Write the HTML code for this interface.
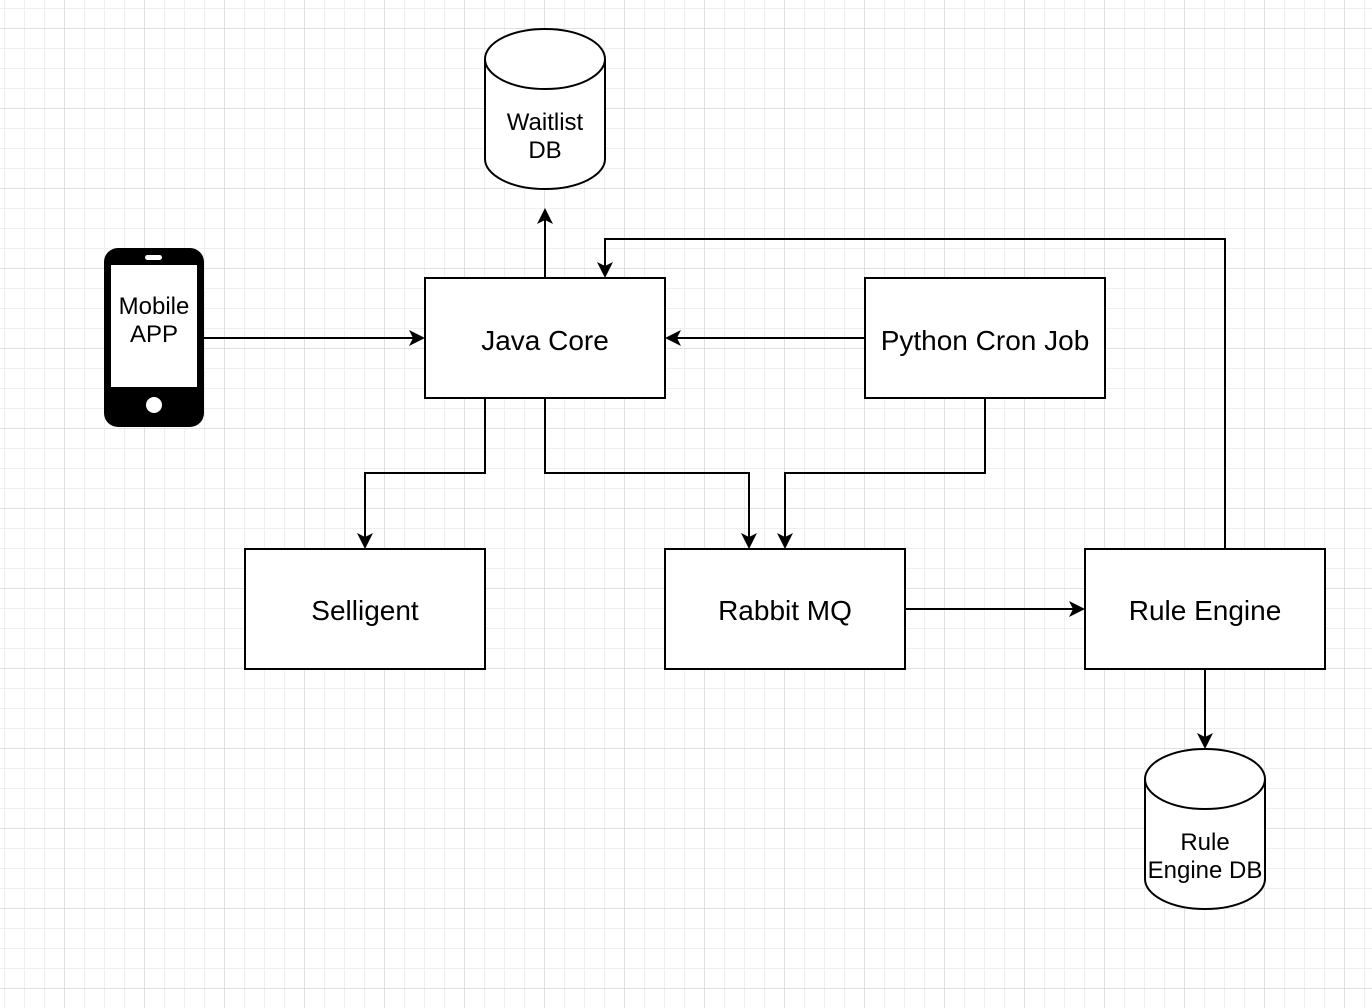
<!DOCTYPE html>
<html><head><meta charset="utf-8"><style>
html,body{margin:0;padding:0;background:#fff}
svg{display:block}
text{font-family:"Liberation Sans",Helvetica,Arial,sans-serif;fill:#000;text-anchor:middle}
.b{font-size:28px}
.s{font-size:24px}
</style></head><body>
<svg width="1372" height="1008" viewBox="0 0 1372 1008" xmlns="http://www.w3.org/2000/svg">
<defs>
<pattern id="minor" width="20" height="20" patternUnits="userSpaceOnUse" x="4" y="8">
<path d="M0 0H20M0 0V20" stroke="#efefef" stroke-width="2" fill="none"/>
</pattern>
<pattern id="major" width="80" height="80" patternUnits="userSpaceOnUse" x="64" y="28">
<path d="M0 0H80M0 0V80" stroke="#d0d0d0" stroke-width="1" fill="none"/>
</pattern>
</defs>
<rect width="1372" height="1008" fill="url(#minor)"/>
<rect width="1372" height="1008" fill="url(#major)"/>

<g fill="none" stroke="#000" stroke-width="2">
<path d="M204 338H414"/>
<path d="M865 338H676"/>
<path d="M545 278V220"/>
<path d="M485 398V473H365V538"/>
<path d="M545 398V473H749V538"/>
<path d="M985 398V473H785V538"/>
<path d="M905 609H1074"/>
<path d="M1205 669V738"/>
<path d="M1225 549V239H605V267"/>
</g>
<g fill="#000">
<polygon points="425,338 409,330 413,338 409,346"/>
<polygon points="1085,609 1069,601 1073,609 1069,617"/>
<polygon points="665,338 681,330 677,338 681,346"/>
<polygon points="545,208 537,224 545,220 553,224"/>
<polygon points="365,549 357,533 365,537 373,533"/>
<polygon points="749,549 741,533 749,537 757,533"/>
<polygon points="785,549 777,533 785,537 793,533"/>
<polygon points="1205,749 1197,733 1205,737 1213,733"/>
<polygon points="605,278 597,262 605,266 613,262"/>
</g>

<g fill="#fff" stroke="#000" stroke-width="2">
<rect x="425" y="278" width="240" height="120"/>
<rect x="865" y="278" width="240" height="120"/>
<rect x="245" y="549" width="240" height="120"/>
<rect x="665" y="549" width="240" height="120"/>
<rect x="1085" y="549" width="240" height="120"/>
<path d="M485 59V159A60 30 0 0 0 605 159V59A60 30 0 0 0 485 59A60 30 0 0 0 605 59"/>
<path d="M1145 779V879A60 30 0 0 0 1265 879V779A60 30 0 0 0 1145 779A60 30 0 0 0 1265 779"/>
</g>

<rect x="104" y="248" width="100" height="179" rx="14" fill="#000"/>
<rect x="111" y="265" width="86" height="122" fill="#fff"/>
<rect x="145" y="255" width="17" height="5" rx="2.5" fill="#fff"/>
<circle cx="154" cy="405" r="8" fill="#fff"/>

<text class="s" x="154" y="314">Mobile</text>
<text class="s" x="154" y="342">APP</text>
<text class="s" x="545" y="130">Waitlist</text>
<text class="s" x="545" y="158">DB</text>
<text class="s" x="1205" y="850">Rule</text>
<text class="s" x="1205" y="878">Engine DB</text>
<text class="b" x="545" y="350">Java Core</text>
<text class="b" x="985" y="350">Python Cron Job</text>
<text class="b" x="365" y="620">Selligent</text>
<text class="b" x="785" y="620">Rabbit MQ</text>
<text class="b" x="1205" y="620">Rule Engine</text>
</svg>
</body></html>
